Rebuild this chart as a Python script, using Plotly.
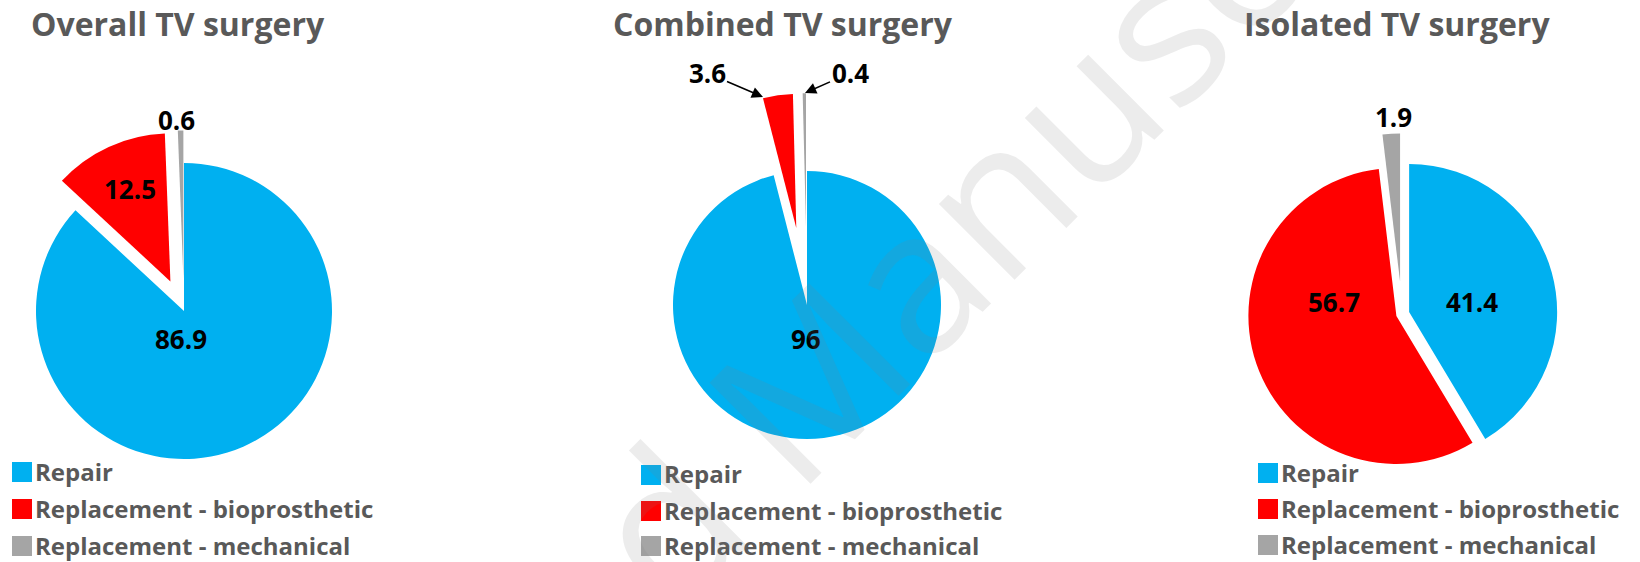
import plotly.graph_objects as go

# ---------------- data ----------------
categories = ["Repair", "Replacement - bioprosthetic", "Replacement - mechanical"]
titles = ["Overall TV surgery", "Combined TV surgery", "Isolated TV surgery"]
overall = [86.9, 12.5, 0.6]
combined = [96, 3.6, 0.4]
isolated = [41.4, 56.7, 1.9]
colors = ["#00B0F0", "#FF0000", "#A5A5A5"]

# ---------------- layout helpers (pixels -> paper) ----------------
W, H = 1640, 562


def fx(px):
    return px / W


def fy(py):
    return 1 - py / H


series = [overall, combined, isolated]
pulls = [[0, 0.22, 0.22], [0, 0.58, 0.58], [0.05, 0.04, 0.22]]
centers = [(184, 311), (807, 305), (1402, 314)]
radii = [148, 134, 148]
title_x = [178, 783, 1397]
legend_x = [12, 641, 1258]
legend_y = [[472, 509, 546], [475, 511, 546], [473, 509, 545]]

# label positions (pixels) for every slice value, per chart
label_pos = [
    [(181, 339), (130, 189), (176, 120)],
    [(806, 339), None, None],
    [(1472, 302), (1334, 302), (1393, 117)],
]
# arrowed labels (combined chart): head position and text offset
arrow_pos = {1: ((763, 97), (-56, -24)), 2: ((805, 93), (45, -20))}

FONT = "Open Sans"
LABEL_FONT = dict(family=FONT, size=26, color="black", weight="bold")
GREY_TXT = "#595959"

fig = go.Figure()
annotations = []
shapes = []

for i, vals in enumerate(series):
    cx, cy = centers[i]
    half = radii[i] * (1 + max(pulls[i]))
    fig.add_trace(go.Pie(
        labels=categories,
        values=vals,
        sort=False,
        direction="clockwise",
        rotation=0,
        pull=pulls[i],
        marker=dict(colors=colors, line=dict(width=0)),
        textinfo="none",
        hoverinfo="label+value",
        showlegend=False,
        domain=dict(x=[fx(cx - half), fx(cx + half)],
                    y=[fy(cy + half), fy(cy - half)]),
    ))
    # title
    annotations.append(dict(
        text=titles[i], x=fx(title_x[i]), y=fy(23), xref="paper", yref="paper",
        showarrow=False, xanchor="center", yanchor="middle",
        font=dict(family=FONT, size=32, color=GREY_TXT, weight="bold")))
    # legend
    for j, cat in enumerate(categories):
        ly = legend_y[i][j]
        lx = legend_x[i]
        shapes.append(dict(type="rect", xref="paper", yref="paper",
                           x0=fx(lx), x1=fx(lx + 20), y0=fy(ly + 10), y1=fy(ly - 10),
                           fillcolor=colors[j], line=dict(width=0)))
        annotations.append(dict(
            text=cat, x=fx(lx + 22), y=fy(ly - 1), xref="paper", yref="paper",
            showarrow=False, xanchor="left", yanchor="middle", borderpad=0,
            font=dict(family=FONT, size=24, color=GREY_TXT, weight="bold")))
    # value labels
    for j, v in enumerate(vals):
        if label_pos[i][j] is not None:
            px, py = label_pos[i][j]
            annotations.append(dict(
                text=f"{v:g}", x=fx(px), y=fy(py), xref="paper", yref="paper",
                showarrow=False, xanchor="center", yanchor="middle", font=LABEL_FONT))

for j, ((hx, hy), (ax, ay)) in arrow_pos.items():
    annotations.append(dict(
        text=f"{combined[j]:g}", x=fx(hx), y=fy(hy), xref="paper", yref="paper",
        showarrow=True, ax=ax, ay=ay, arrowhead=2, arrowsize=1.4,
        arrowwidth=1.6, arrowcolor="black", standoff=0, font=LABEL_FONT))

# faint watermark
annotations.append(dict(text="Accepted Manuscript", x=fx(792), y=fy(392), xref="paper", yref="paper",
                        showarrow=False, textangle=-45, xanchor="center", yanchor="middle",
                        font=dict(family=FONT, size=200, color="rgba(128,128,128,0.15)")))

fig.update_layout(
    width=W, height=H,
    margin=dict(l=0, r=0, t=0, b=0),
    paper_bgcolor="white", plot_bgcolor="white",
    annotations=annotations, shapes=shapes,
)

fig.write_html("out.html", config={"displayModeBar": False},
               post_script="document.body.style.margin='0';document.body.style.overflow='hidden';")
